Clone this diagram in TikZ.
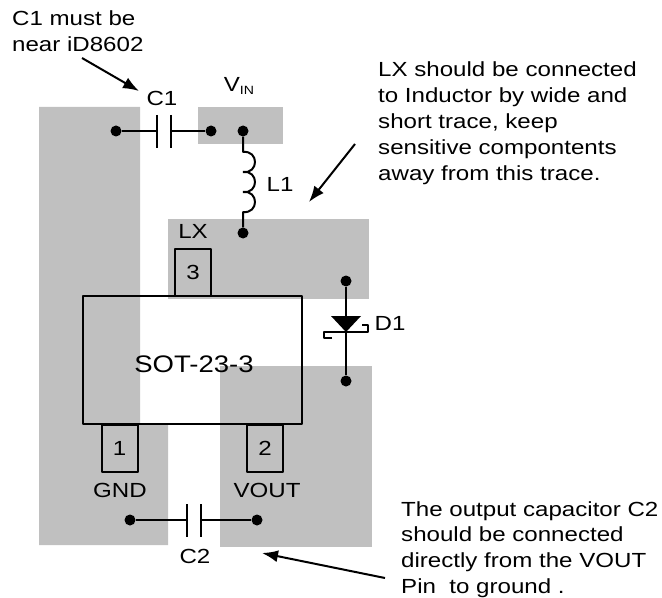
\documentclass[tikz,border=0pt]{standalone}
\usepackage{fontspec}
\setmainfont[FakeStretch=1.18]{Liberation Sans}
\newfontfamily\chipfont[FakeStretch=1.15]{Liberation Sans}
\usetikzlibrary{arrows.meta}
\definecolor{padgray}{RGB}{192,192,192}
\tikzset{
  txt/.style={inner sep=0pt,font=\fontsize{20.5}{26}\selectfont},
  note/.style={txt,anchor=north west,align=left},
  pad/.style={fill=padgray,draw=none},
  wire/.style={black,line width=2bp},
  dot/.style={circle,fill=black,draw=none,inner sep=0pt,minimum size=11bp},
  pinbox/.style={draw,line width=2bp,inner sep=0pt,minimum width=36bp,minimum height=47bp,font=\fontsize{20.5}{22}\selectfont},
  pointer/.style={black,line width=2bp,-{Latex[length=16bp,width=12bp]}},
}
\begin{document}
\begin{tikzpicture}[x=1bp,y=-1bp,line join=bevel]
\useasboundingbox (0,0) rectangle (662,598);
%% copper
\fill [pad] (39,107) -- (140,107) -- (140,424) -- (168,424) -- (168,545) -- (39,545) -- cycle;
\fill [pad] (198,107) rectangle (283,144);
\fill [pad] (168,219) rectangle (369,299);
\fill [pad] (220,366) rectangle (372,547);
%% package
\node (chip) at (192.5,360) [draw,line width=2bp,inner sep=0pt,minimum width=219bp,minimum height=128bp] {};
\node (chip_name) at (194,364) [txt,font=\chipfont\fontsize{24}{26}\selectfont] {SOT-23-3};
\node (pin_3) at (193,272.5) [pinbox] {3};
\node (pin_1) at (119.5,448) [pinbox] {1};
\node (pin_2) at (265,448) [pinbox] {2};
%% terminals
\node (c1_a) at (116,131) [dot] {};
\node (c1_b) at (211,131) [dot] {};
\node (vin) at (243,131) [dot] {};
\node (lx) at (243,233) [dot] {};
\node (d1_a) at (346,281) [dot] {};
\node (d1_k) at (346,381) [dot] {};
\node (c2_a) at (130,520) [dot] {};
\node (c2_b) at (257,520) [dot] {};
%% C1
\coordinate (c1_p) at (156.5,131);
\coordinate (c1_q) at (171,131);
\draw [wire] (c1_a) -- (c1_p);
\draw [wire] (c1_q) -- (c1_b);
\draw [wire] (156.5,115) -- (156.5,148);
\draw [wire] (171,115) -- (171,148);
%% C2
\coordinate (c2_p) at (187,520);
\coordinate (c2_q) at (201,520);
\draw [wire] (c2_a) -- (c2_p);
\draw [wire] (c2_q) -- (c2_b);
\draw [wire] (187,504) -- (187,537);
\draw [wire] (201,504) -- (201,537);
%% L1
\draw [wire] (vin) -- (243,152) ..controls (259,150) and (259,174) .. (243,172)
  ..controls (259,170) and (259,194) .. (243,192)
  ..controls (259,190) and (259,214) .. (243,212) -- (lx);
%% D1
\draw [wire] (d1_a) -- (d1_k);
\fill (331,316) -- (361,316) -- (346,332) -- cycle;
\draw [wire] (332,338) -- (324,338) -- (324,331.5) -- (368,331.5) -- (368,325) -- (362,325);
%% labels
\node (c1_label) at (162,98) [txt] {C1};
\node (vin_label) at (239,86) [txt] {V\raisebox{-3bp}{\fontsize{12}{12}\selectfont IN}};
\node (l1_label) at (280,184) [txt] {L1};
\node (lx_label) at (193,231) [txt] {LX};
\node (d1_label) at (390,323) [txt] {D1};
\node (gnd_label) at (120,490) [txt] {GND};
\node (vout_label) at (267,490) [txt] {VOUT};
\node (c2_label) at (195,556) [txt] {C2};
%% notes
\node (note_c1) at (12,11) [note] {C1 must be\\near iD8602};
\node (note_lx) at (378,62) [note] {LX should be connected\\to Inductor by wide and\\short trace, keep\\sensitive compontents\\away from this trace.};
\node (note_c2) at (401,501) [note] {The output capacitor C2\\should be connected\\directly from the VOUT\\Pin\ \ to ground .};
\coordinate (note_c1_tail) at (82,58);
\coordinate (note_c1_tip) at (139,91);
\coordinate (note_lx_tail) at (355,144);
\coordinate (note_lx_tip) at (309,202);
\coordinate (note_c2_tail) at (385,578);
\coordinate (note_c2_tip) at (262,553);
\draw [pointer] (note_c1_tail) -- (note_c1_tip);
\draw [pointer] (note_lx_tail) -- (note_lx_tip);
\draw [pointer] (note_c2_tail) -- (note_c2_tip);
%
\end{tikzpicture}
\end{document}
